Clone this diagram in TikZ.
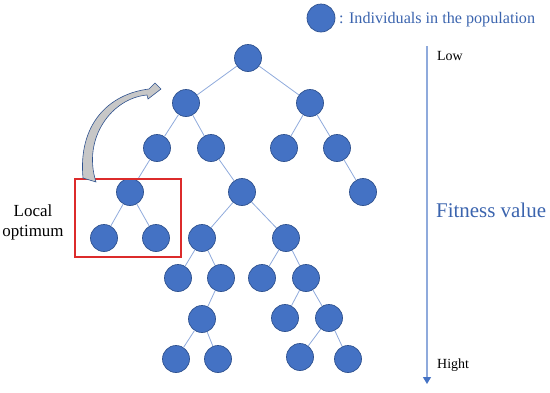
\documentclass[tikz,border=0pt]{standalone}
\usepackage{fontspec}
\setmainfont{Liberation Serif}
\usepackage{xcolor}
\definecolor{popBlue}{HTML}{4472C4}
\definecolor{popEdge}{HTML}{2F528F}
\definecolor{linkBlue}{HTML}{8FAADC}
\definecolor{textBlue}{HTML}{3B64AE}
\definecolor{boxRed}{HTML}{DC2B2B}
\usepackage{tikz}
\usetikzlibrary{arrows.meta}

\begin{document}
\begin{tikzpicture}[x=1bp, y=-1bp,
    indiv/.style={circle, fill=popBlue, draw=popEdge, line width=0.7bp, minimum size=27bp, inner sep=0pt},
    link/.style={draw=linkBlue, line width=0.8bp},
    lbl/.style={inner sep=0pt, font=\fontsize{14}{16}\selectfont}]
  \useasboundingbox (0,0) rectangle (550,392);
  % ------- legend -------
  \node[indiv, minimum size=28bp] (key) at (321,18) {};
  \node[lbl, anchor=base west, text=textBlue, font=\fontsize{16.2}{18}\selectfont] (keytxt) at (339,23) {: Individuals in the population};
  % ------- population tree -------
  \foreach \n/\x/\y in {r/248/58, a/186/103, b/310/103, aa/157/148, ab/211/148, ba/284/148, bb/337/148,
      aaa/130/192, aba/242/192, bba/363/192, l1/104/238, l2/156/238, c1/202/238, c2/286/238,
      d1/178/278, d2/221/278, d3/262/278, d4/306/278, e1/202/319, e2/285/318, e3/329/318,
      f1/176/359, f2/218/359, f3/300/357, f4/348/359}
    \node[indiv] (\n) at (\x,\y) {};
  \foreach \u/\v in {r/a, r/b, a/aa, a/ab, b/ba, b/bb, aa/aaa, ab/aba, bb/bba, aaa/l1, aaa/l2,
      aba/c1, aba/c2, c1/d1, c1/d2, c2/d3, c2/d4, d2/e1, d4/e2, d4/e3, e1/f1, e1/f2, e3/f3, e3/f4}
    \draw[link] (\u) -- (\v);
  % ------- local optimum -------
  \draw[boxRed, line width=1.1bp] (75,179) rectangle (181,257);
  \node[lbl, align=center, font=\fontsize{17}{20}\selectfont] (local) at (33,222) {Local\\optimum};
  \filldraw[fill=black!22, draw=popEdge, line width=0.6bp]
    (83,178) .. controls (78,125) and (108,94) .. (149,89)
    -- (155,83) -- (161,89) -- (148,99) -- (147,95)
    .. controls (112,98) and (82,138) .. (96,182) -- cycle;
  % ------- fitness axis -------
  \coordinate (top) at (427,46);
  \coordinate (bot) at (427,384);
  \draw[linkBlue, line width=1.3bp, -{Triangle[width=8bp,length=7bp,color=popBlue]}] (top) -- (bot);
  \node[lbl, anchor=base west] (low) at (437,60) {Low};
  \node[lbl, anchor=base west] (high) at (437,368) {Hight};
  \node[lbl, anchor=base west, text=textBlue, font=\fontsize{21}{24}\selectfont] (fit) at (436,217) {Fitness value};
\end{tikzpicture}
\end{document}
